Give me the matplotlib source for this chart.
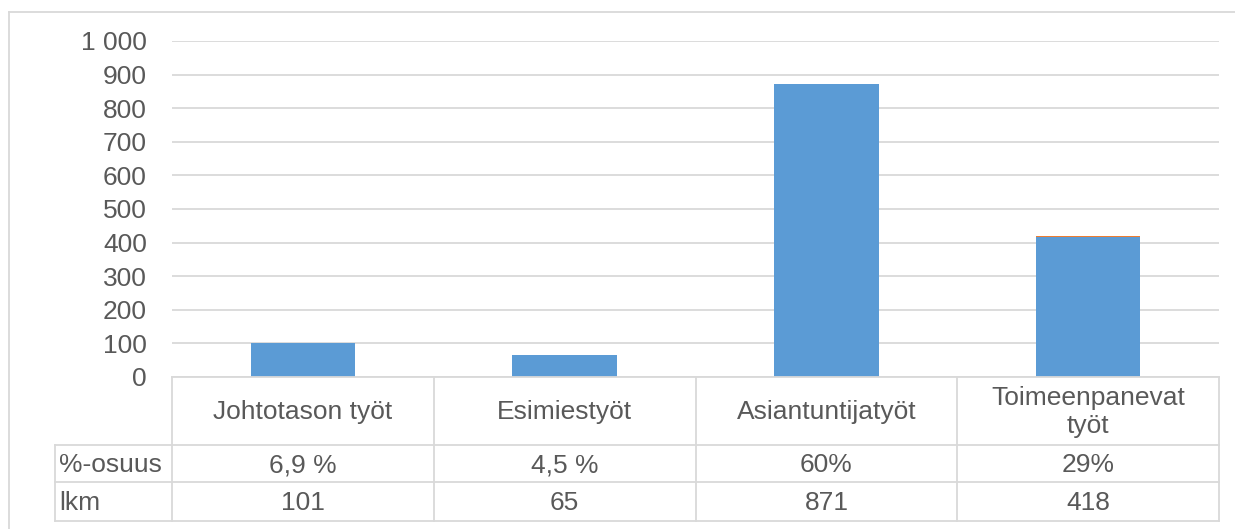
import matplotlib
matplotlib.use("Agg")
import matplotlib.pyplot as plt
from matplotlib.lines import Line2D
from matplotlib.ticker import FuncFormatter

categories = ["Johtotason työt", "Esimiestyöt", "Asiantuntijatyöt", "Toimeenpanevat\ntyöt"]
lkm = [101, 65, 871, 418]
osuus = [0.069, 0.045, 0.60, 0.29]
osuus_labels = ["6,9 %", "4,5 %", "60%", "29%"]
lkm_labels = ["101", "65", "871", "418"]
row_names = ["%-osuus", "lkm"]

W, H = 1235, 529
plt.rcParams["font.family"] = ["Liberation Sans", "DejaVu Sans"]
text_color = "#595959"
line_color = "#d9d9d9"
fs = 19

fig = plt.figure(figsize=(W / 100, H / 100), dpi=100)

def fx(px):
    return px / W

def fy(py):
    return 1 - py / H

# plot area
x0, x1, ytop, ybot = 172, 1219, 41, 377
ax = fig.add_axes([fx(x0), fy(ybot), fx(x1) - fx(x0), fy(ytop) - fy(ybot)])
xs = range(len(categories))
ax.bar(xs, lkm, width=0.4, color="#5b9bd5", zorder=3)
ax.bar(xs, osuus, bottom=lkm, width=0.4, color="#ed7d31", zorder=3)
ax.set_xlim(-0.5, len(categories) - 0.5)
ax.set_ylim(0, 1000)
ax.set_yticks(range(0, 1001, 100))
ax.yaxis.set_major_formatter(FuncFormatter(lambda v, p: f"{int(v):,}".replace(",", " ")))
ax.tick_params(axis="y", length=0, labelsize=fs, labelcolor=text_color, pad=18)
ax.set_xticks([])
ax.grid(axis="y", color=line_color, linewidth=1.3, zorder=0)
for s in ax.spines.values():
    s.set_visible(False)

# data table below the plot
col_edges = [x0 + i * (x1 - x0) / len(categories) for i in range(len(categories) + 1)]
row_edges = [377, 445, 482, 521]
left_col = 55
lw = 1.3

def hline(xa, xb, y):
    fig.add_artist(Line2D([fx(xa), fx(xb)], [fy(y), fy(y)], color=line_color, lw=lw))

def vline(x, ya, yb):
    fig.add_artist(Line2D([fx(x), fx(x)], [fy(ya), fy(yb)], color=line_color, lw=lw))

hline(x0, x1, row_edges[0])
for y in row_edges[1:]:
    hline(left_col, x1, y)
vline(left_col, row_edges[1], row_edges[3])
for x in col_edges:
    vline(x, row_edges[0], row_edges[3])

for i, c in enumerate(categories):
    cx = (col_edges[i] + col_edges[i + 1]) / 2
    fig.text(fx(cx), fy((row_edges[0] + row_edges[1]) / 2 + 1), c, ha="center", va="center",
             fontsize=fs, color=text_color, linespacing=1.2)
    fig.text(fx(cx), fy((row_edges[1] + row_edges[2]) / 2 + 2), osuus_labels[i], ha="center",
             va="center", fontsize=fs, color=text_color)
    fig.text(fx(cx), fy((row_edges[2] + row_edges[3]) / 2 + 2), lkm_labels[i], ha="center",
             va="center", fontsize=fs, color=text_color)

for j, name in enumerate(row_names):
    fig.text(fx(left_col + 4), fy((row_edges[1 + j] + row_edges[2 + j]) / 2 + 2), name,
             ha="left", va="center", fontsize=fs, color=text_color)

# chart frame
hline(9, W, 12)
vline(9, 12, H)

fig.savefig("out.png", dpi=100, facecolor="white")
